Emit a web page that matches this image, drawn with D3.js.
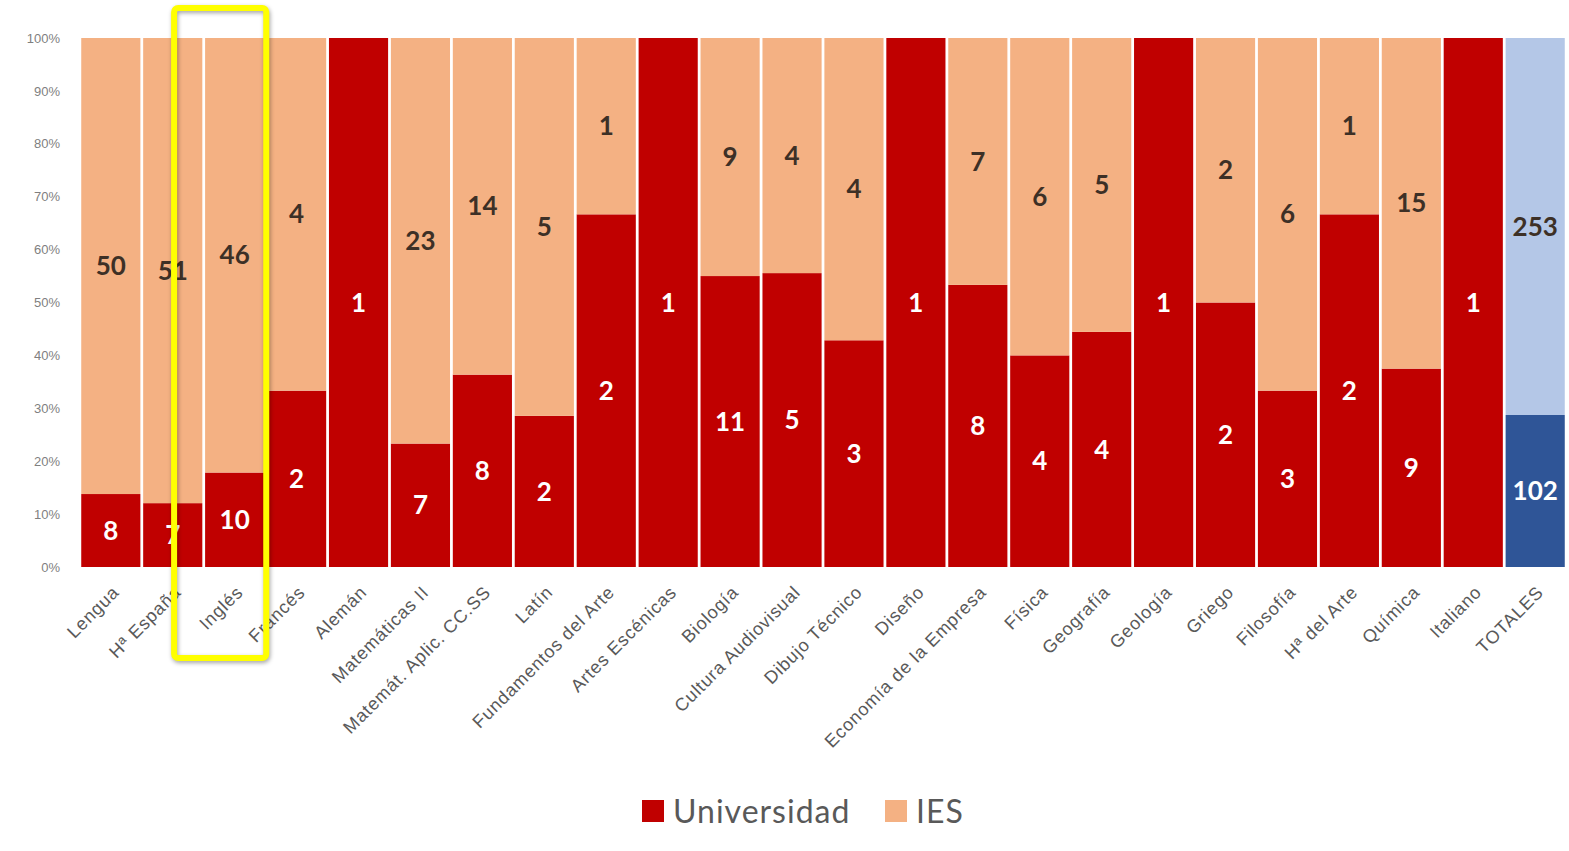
<!DOCTYPE html>
<html>
<head>
<meta charset="utf-8">
<script src="https://cdn.jsdelivr.net/npm/d3@7"></script>
<style>
  html, body { margin: 0; padding: 0; background: #fff; }
  svg { display: block; }
</style>
</head>
<body>
<svg id="chart" width="1569" height="851"></svg>
<script>
const categories = ["Lengua", "Hª España", "Inglés", "Francés", "Alemán", "Matemáticas II",
  "Matemát. Aplic. CC.SS", "Latín", "Fundamentos del Arte", "Artes Escénicas", "Biología",
  "Cultura Audiovisual", "Dibujo Técnico", "Diseño", "Economía de la Empresa", "Física",
  "Geografía", "Geología", "Griego", "Filosofía", "Hª del Arte", "Química", "Italiano", "TOTALES"];
const universidad = [8, 7, 10, 2, 1, 7, 8, 2, 2, 1, 11, 5, 3, 1, 8, 4, 4, 1, 2, 3, 2, 9, 1, 102];
const ies = [50, 51, 46, 4, 0, 23, 14, 5, 1, 0, 9, 4, 4, 0, 7, 6, 5, 0, 2, 6, 1, 15, 0, 253];
const yTicks = [0, 0.1, 0.2, 0.3, 0.4, 0.5, 0.6, 0.7, 0.8, 0.9, 1];
const seriesNames = ["Universidad", "IES"];
const highlighted = "Inglés";

const colors = { Universidad: "#c00000", IES: "#f4b183" };
const totalColors = { Universidad: "#2f5597", IES: "#b4c7e7" };

const svg = d3.select("#chart");
const m = { left: 80, right: 3, top: 38, bottom: 284 };
const W = 1569, H = 851;

const x = d3.scaleBand().domain(categories).range([m.left, W - m.right]).paddingInner(0.045).paddingOuter(0.02);
const y = d3.scaleLinear().domain([0, 1]).range([H - m.bottom, m.top]);

const rows = categories.map((c, i) => ({ cat: c, Universidad: universidad[i], IES: ies[i] }));
const stack = d3.stack().keys(seriesNames).offset(d3.stackOffsetExpand);
const series = stack(rows);

const font = "Lato, 'Open Sans', sans-serif";

// bars
series.forEach(s => {
  svg.append("g").selectAll("rect").data(s).join("rect")
    .attr("x", d => x(d.data.cat))
    .attr("width", x.bandwidth())
    .attr("y", d => y(d[1]))
    .attr("height", d => y(d[0]) - y(d[1]))
    .attr("fill", d => d.data.cat === "TOTALES" ? totalColors[s.key] : colors[s.key]);
});

// data labels
series.forEach(s => {
  svg.append("g").selectAll("text").data(s.filter(d => d.data[s.key] > 0)).join("text")
    .attr("x", d => x(d.data.cat) + x.bandwidth() / 2)
    .attr("y", d => (y(d[0]) + y(d[1])) / 2)
    .attr("dy", "0.35em")
    .attr("text-anchor", "middle")
    .attr("font-family", font)
    .attr("font-weight", "bold")
    .attr("font-size", 26)
    .attr("fill", s.key === "Universidad" ? "#ffffff" : "#3d3026")
    .text(d => d.data[s.key]);
});

// y axis
const yAxis = d3.axisLeft(y).tickValues(yTicks).tickFormat(d3.format(".0%")).tickSize(0).tickPadding(0);
const gy = svg.append("g").attr("transform", `translate(${m.left - 20},0)`).call(yAxis);
gy.select(".domain").remove();
gy.selectAll("text").attr("font-family", "'Liberation Sans', Arial, sans-serif").attr("font-size", 13).attr("fill", "#7f7f7f");

// x axis
const xAxis = d3.axisBottom(x).tickSize(0).tickPadding(0);
const gx = svg.append("g").attr("transform", `translate(0,${H - m.bottom})`).call(xAxis);
gx.select(".domain").remove();
gx.selectAll("text")
  .attr("font-family", "'Liberation Sans', Arial, sans-serif")
  .attr("font-size", 18)
  .attr("letter-spacing", 0.8)
  .attr("fill", "#595959")
  .attr("text-anchor", "end")
  .attr("dy", "0.35em")
  .attr("transform", "translate(5,22) rotate(-45)");

// highlight box around Inglés
const hx = x(highlighted);
svg.append("rect")
  .attr("x", hx - 31).attr("y", 8)
  .attr("width", x.bandwidth() + 33).attr("height", 650)
  .attr("rx", 4)
  .attr("fill", "none").attr("stroke", "#ffff00").attr("stroke-width", 6)
  .style("filter", "drop-shadow(1px 2px 2px rgba(0,0,0,0.35))");

// legend
const legend = svg.append("g").attr("transform", "translate(642,800)");
const lItems = [{ k: "Universidad", x: 0 }, { k: "IES", x: 243 }];
lItems.forEach(it => {
  legend.append("rect").attr("x", it.x).attr("y", 0).attr("width", 22).attr("height", 22).attr("fill", colors[it.k]);
  legend.append("text").attr("x", it.x + 31).attr("y", 11).attr("dy", "0.36em")
    .attr("font-family", font).attr("font-size", 32).attr("letter-spacing", 1)
    .attr("fill", "#595959").text(it.k);
});
</script>
</body>
</html>
